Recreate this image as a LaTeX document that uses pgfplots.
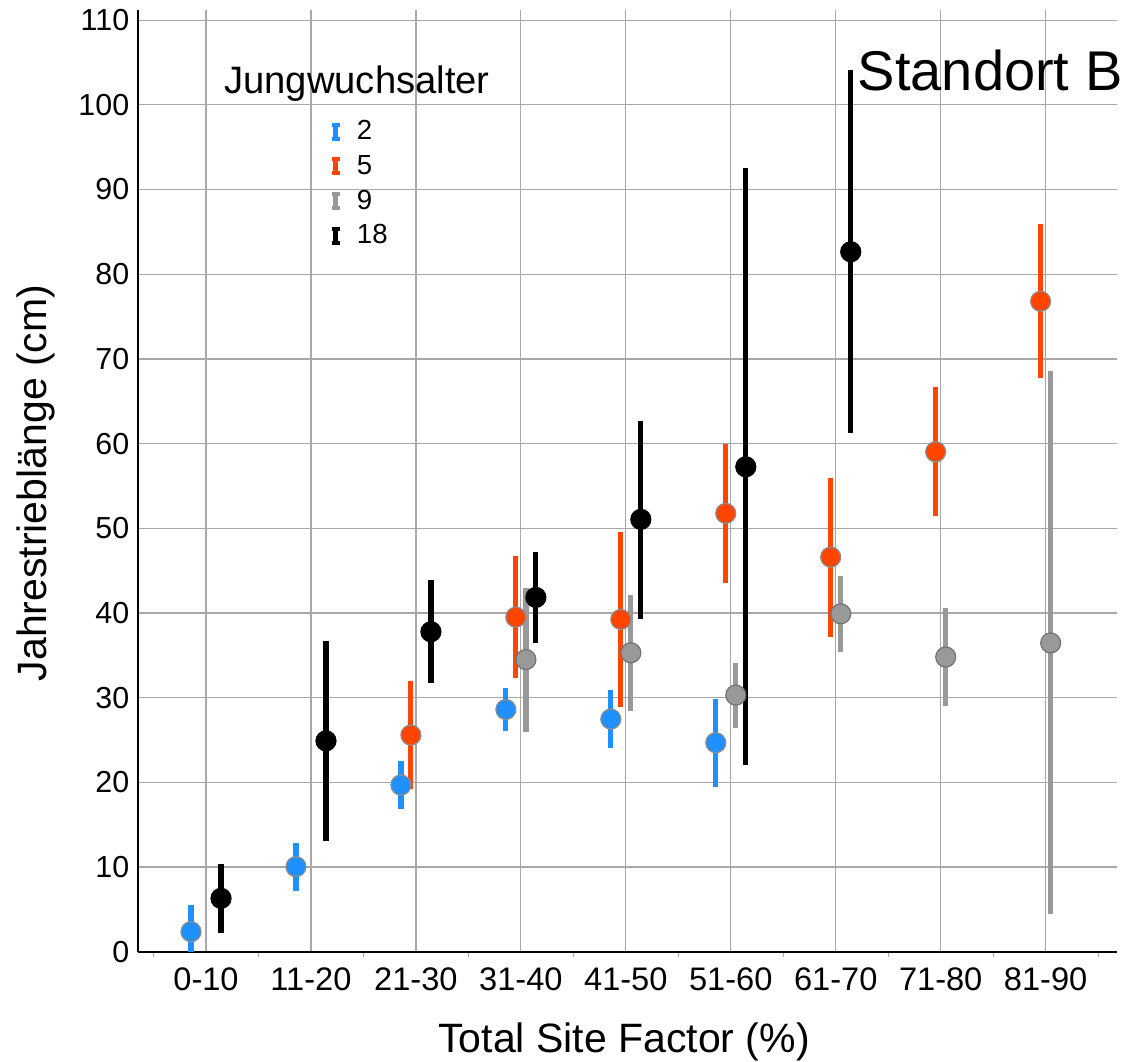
\documentclass[border=0pt]{standalone}
\usepackage{pgfplots}
\pgfplotsset{compat=1.18}
\usepackage{pgfplotstable}
\usepackage{fontspec}
\setmainfont{Liberation Sans}

\definecolor{cBlue}{HTML}{1E90FF}
\definecolor{cOrange}{HTML}{FF4500}
\definecolor{cGray}{HTML}{999999}
\definecolor{cGrid}{HTML}{A8A8A8}

% mean with lower and upper bound, per age class
\pgfplotstableread{
x y lo hi
0 2.36 0.00 5.51
1 10.04 7.20 12.80
2 19.68 16.81 22.55
3 28.60 26.10 31.10
4 27.47 24.10 30.90
5 24.68 19.50 29.90
}\ageTwo
\pgfplotstableread{
x y lo hi
2 25.58 19.17 32.00
3 39.50 32.30 46.70
4 39.24 28.90 49.60
5 51.76 43.50 59.90
6 46.60 37.20 55.90
7 59.03 51.40 66.70
8 76.80 67.77 85.90
}\ageFive
\pgfplotstableread{
x y lo hi
3 34.50 25.97 43.00
4 35.30 28.45 42.10
5 30.30 26.40 34.10
6 39.90 35.40 44.40
7 34.80 29.00 40.55
8 36.46 4.42 68.56
}\ageNine
\pgfplotstableread{
x y lo hi
0 6.30 2.17 10.35
1 24.90 13.07 36.70
2 37.78 31.76 43.88
3 41.84 36.40 47.20
4 51.05 39.30 62.70
5 57.26 22.04 92.50
6 82.65 61.20 104.10
}\ageEighteen

% one series: table, horizontal dodge, colour, marker edge colour
\newcommand{\ageseries}[4]{%
  \addplot[forget plot, only marks, mark=*, mark size=5pt,
    mark options={fill=#3, draw=#4, line width=0.6pt},
    error bars/.cd, y dir=both, y explicit, error mark=none,
    error bar style={draw=#3, line width=2.6pt}]
    table[x expr=\thisrow{x}+#2, y=y,
          y error plus expr=\thisrow{hi}-\thisrow{y},
          y error minus expr=\thisrow{y}-\thisrow{lo}] {#1};
}
% I-beam legend symbol
\newcommand{\ibeam}[1]{%
  \fill[#1] (-1pt,-4.3pt) rectangle (1pt,4.3pt);
  \fill[#1] (-1.8pt,2.8pt) rectangle (1.8pt,4.3pt);
  \fill[#1] (-1.8pt,-4.3pt) rectangle (1.8pt,-2.8pt);
}

\begin{document}
\begin{tikzpicture}
\path[use as bounding box] (-69pt,-54.65pt) rectangle (494.5pt,475.85pt);
\begin{axis}[
  scale only axis,
  width=489.5pt, height=470.85pt,
  xmin=-0.648, xmax=8.68,
  ymin=0, ymax=111.2,
  axis x line*=bottom, axis y line*=left,
  axis line style={black, line width=0.8pt, -},
  xtick={0,...,8},
  xticklabels={0-10,11-20,21-30,31-40,41-50,51-60,61-70,71-80,81-90},
  minor xtick={-0.5,0.5,...,8.5},
  ytick={0,10,...,110},
  xtick align=outside,
  major tick length=0pt,
  minor tick length=2.6pt,
  minor x tick style={draw=cGrid, line width=0.6pt},
  xmajorgrids, ymajorgrids,
  major grid style={draw=cGrid, line width=0.6pt},
  /pgf/number format/assume math mode=true,
  xticklabel style={font=\fontsize{16.3}{19}\selectfont, inner sep=0pt, anchor=north, yshift=-8pt},
  yticklabel style={font=\fontsize{15.2}{18}\selectfont, inner sep=0pt, anchor=east, xshift=-4.2pt},
  xlabel={Total Site Factor (\%)},
  ylabel={Jahrestrieblänge (cm)},
  xlabel style={font=\fontsize{20.5}{24}\selectfont, at={(axis description cs:0.4965,-0.0755)}, anchor=north, inner sep=0pt},
  ylabel style={font=\fontsize{20.5}{24}\selectfont, at={(axis description cs:-0.1239,0.4977)}, anchor=north, inner sep=0pt},
  legend style={at={(axis description cs:0.1975,0.8832)}, anchor=north west,
    draw=none, fill=none, inner sep=0pt, row sep=6.3pt, column sep=8.6pt,
    nodes={inner sep=0pt},
    font=\fontsize{13.8}{16}\selectfont},
  legend cell align=left,
  clip=false,
]
\ageseries{\ageTwo}{-0.143}{cBlue}{black!45}
\ageseries{\ageFive}{-0.048}{cOrange}{black!45}
\ageseries{\ageNine}{0.048}{cGray}{black!55}
\ageseries{\ageEighteen}{0.143}{black}{black}

\addlegendimage{legend image code/.code={\ibeam{cBlue}}}
\addlegendentry{2}
\addlegendimage{legend image code/.code={\ibeam{cOrange}}}
\addlegendentry{5}
\addlegendimage{legend image code/.code={\ibeam{cGray}}}
\addlegendentry{9}
\addlegendimage{legend image code/.code={\ibeam{black}}}
\addlegendentry{18}

\node[anchor=base, inner sep=0pt, font=\fontsize{19.1}{22}\selectfont]
  at (axis description cs:0.2237,0.911) {Jungwuchsalter};
\node[anchor=base east, inner sep=0pt, font=\fontsize{28}{32}\selectfont]
  at (axis description cs:1.006,0.915) {Standort B};
\end{axis}
\end{tikzpicture}
\end{document}
